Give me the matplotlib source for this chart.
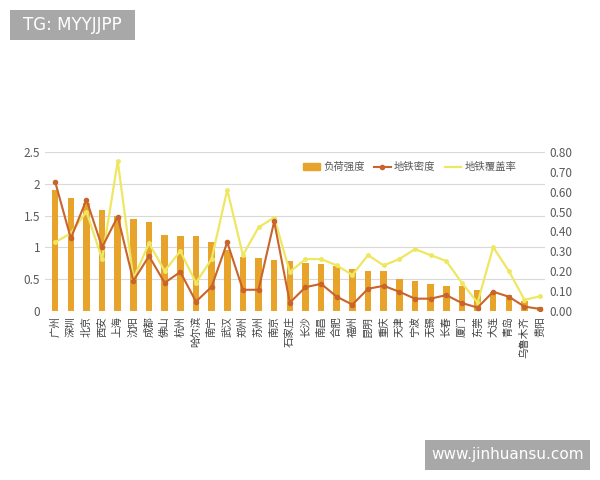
import matplotlib
matplotlib.use('Agg')
import matplotlib.pyplot as plt
from matplotlib.patches import Patch, Rectangle
from matplotlib.lines import Line2D
import numpy as np

plt.rcParams['font.family'] = ['Noto Sans CJK SC', 'DejaVu Sans']

cities = ['广州', '深圳', '北京', '西安', '上海', '沈阳', '成都', '佛山', '杭州', '哈尔滨',
          '南宁', '武汉', '郑州', '苏州', '南京', '石家庄', '长沙', '南昌', '合肥', '福州',
          '昆明', '重庆', '天津', '宁波', '无锡', '长春', '厦门', '东莞', '大连', '青岛',
          '乌鲁木齐', '贵阳']
load = [1.91, 1.78, 1.70, 1.59, 1.50, 1.44, 1.39, 1.19, 1.18, 1.17,
        1.08, 0.96, 0.84, 0.83, 0.80, 0.78, 0.75, 0.74, 0.70, 0.65,
        0.63, 0.62, 0.50, 0.46, 0.42, 0.39, 0.38, 0.32, 0.30, 0.25,
        0.15, 0.05]
density = [0.65, 0.365, 0.56, 0.32, 0.475, 0.15, 0.275, 0.14, 0.195, 0.045,
           0.12, 0.345, 0.105, 0.105, 0.45, 0.04, 0.118, 0.135, 0.07, 0.03,
           0.11, 0.125, 0.095, 0.06, 0.06, 0.078, 0.038, 0.015, 0.095, 0.07,
           0.02, 0.008]
coverage = [0.345, 0.39, 0.50, 0.26, 0.755, 0.16, 0.34, 0.20, 0.30, 0.14,
            0.26, 0.61, 0.28, 0.42, 0.47, 0.195, 0.26, 0.26, 0.228, 0.18,
            0.28, 0.228, 0.26, 0.31, 0.28, 0.25, 0.14, 0.04, 0.32, 0.20,
            0.054, 0.072]

BAR_C = '#E8A42A'
DEN_C = '#C8642C'
COV_C = '#EEE762'
TXT_C = '#595959'
WM_C = '#A8A8A8'

fig = plt.figure(figsize=(6, 4.8), dpi=100)
ax1 = fig.add_axes([0.075, 0.353, 0.833, 0.33])
ax2 = ax1.twinx()

x = np.arange(len(cities))
ax1.bar(x, load, width=0.42, color=BAR_C, zorder=2)
ax1.set_ylim(0, 2.5)
ax1.set_yticks([0, 0.5, 1, 1.5, 2, 2.5])
ax1.set_yticklabels(['0', '0.5', '1', '1.5', '2', '2.5'])
ax1.set_xlim(-0.65, 31.3)
ax1.set_xticks(x)
ax1.set_xticklabels(cities, rotation=90, va='top')
ax1.grid(axis='y', color='#D9D9D9', lw=0.8, zorder=0)
ax1.set_axisbelow(True)

ax2.plot(x, coverage, color=COV_C, lw=1.6, marker='o', ms=2.5, zorder=3)
ax2.plot(x, density, color=DEN_C, lw=1.5, marker='o', ms=3, zorder=4)
ax2.set_ylim(0, 0.8)
ax2.set_yticks(np.arange(0, 0.81, 0.1))
ax2.set_yticklabels([f'{v:.2f}' for v in np.arange(0, 0.81, 0.1)])

for a in (ax1, ax2):
    for s in a.spines.values():
        s.set_visible(False)
    a.tick_params(length=0, labelsize=8.5, labelcolor=TXT_C)
ax1.tick_params(axis='x', labelsize=7.5, labelcolor='#404040', pad=4)

handles = [Patch(color=BAR_C),
           Line2D([0], [0], color=DEN_C, lw=1.5, marker='o', ms=3),
           Line2D([0], [0], color=COV_C, lw=1.6)]
ax2.legend(handles, ['负荷强度', '地铁密度', '地铁覆盖率'], loc='center',
           bbox_to_anchor=(0.73, 0.905), ncol=3, frameon=False, fontsize=7.5,
           handlelength=1.6, handletextpad=0.3, columnspacing=0.9,
           labelcolor=TXT_C)

# watermarks
fig.add_artist(Rectangle((10 / 600, 1 - 40 / 480), 125 / 600, 30 / 480,
                         transform=fig.transFigure, facecolor=WM_C, edgecolor='none'))
fig.text(72.5 / 600, 1 - 25 / 480, 'TG: MYYJJPP', color='white', fontsize=12,
         family='DejaVu Sans', va='center', ha='center')
fig.add_artist(Rectangle((425 / 600, 10 / 480), 165 / 600, 30 / 480,
                         transform=fig.transFigure, facecolor=WM_C, edgecolor='none'))
fig.text(507.5 / 600, 25 / 480, 'www.jinhuansu.com', color='white', fontsize=11,
         family='DejaVu Sans', va='center', ha='center')

fig.savefig('out.png', dpi=100)
